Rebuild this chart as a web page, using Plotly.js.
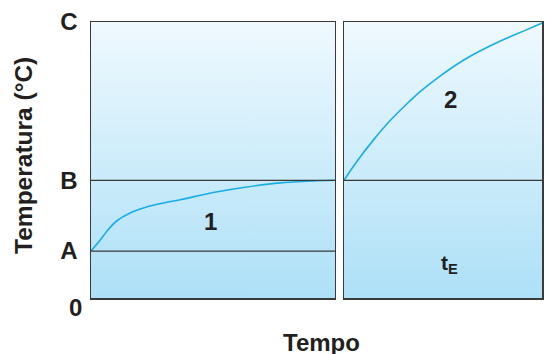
<!DOCTYPE html>
<html>
<head>
<meta charset="utf-8">
<script src="https://cdn.plot.ly/plotly-3.0.1.min.js"></script>
<style>html,body{margin:0;padding:0;background:#fff;}#chart{width:546px;height:354px;}</style>
</head>
<body>
<div id="chart"></div>
<script>
// Temperature levels (relative units, C = 100)
const levelA = 17.0;
const levelB = 42.65;
const levelC = 100;
const yTickVals = [levelA, levelB, levelC];
const yTickText = ['A', 'B', 'C'];

// Curve 1 (left panel), time as fraction of panel
const curve1Time = [0, 0.037, 0.071, 0.105, 0.160, 0.228, 0.296, 0.365, 0.501, 0.638, 0.775, 0.911, 1.0];
const curve1Temp = [17.0, 20.9, 24.8, 27.9, 30.8, 33.0, 34.4, 35.6, 38.2, 40.2, 41.7, 42.4, 42.65];

// Curve 2 (right panel)
const curve2Time = [0, 0.064, 0.148, 0.232, 0.317, 0.392, 0.485, 0.569, 0.653, 0.737, 0.822, 0.906, 1.0];
const curve2Temp = [42.65, 49.4, 57.2, 64.2, 70.3, 75.2, 80.4, 84.6, 88.2, 91.3, 94.1, 96.7, 99.6];

const INK = '#231f20';
const LINE = '#3a3a3a';
const CURVE = '#19ade6';
const FAM = 'Liberation Sans, Arial, sans-serif';

function bg(xa, ya) {
  return {
    x: [0, 1, 1, 0, 0], y: [0, 0, levelC, levelC, 0],
    xaxis: xa, yaxis: ya, mode: 'none', fill: 'toself',
    fillgradient: {type: 'vertical', start: 0, stop: levelC,
      colorscale: [[0, '#ade0f7'], [1, '#eff9fe']]},
    hoverinfo: 'skip', showlegend: false
  };
}

const traces = [
  bg('x', 'y'),
  bg('x2', 'y2'),
  {x: curve1Time, y: curve1Temp, xaxis: 'x', yaxis: 'y', mode: 'lines',
   line: {color: CURVE, width: 1.6, shape: 'spline', smoothing: 0.8}, hoverinfo: 'skip', showlegend: false},
  {x: curve2Time, y: curve2Temp, xaxis: 'x2', yaxis: 'y2', mode: 'lines',
   line: {color: CURVE, width: 1.6, shape: 'spline', smoothing: 1}, hoverinfo: 'skip', showlegend: false}
];

const axisBase = {showgrid: false, zeroline: false, showline: true, mirror: true,
  linecolor: LINE, linewidth: 1.5, ticks: '', fixedrange: true};

const layout = {
  width: 546, height: 354,
  margin: {l: 91, r: 4, t: 22, b: 56, pad: 0},
  paper_bgcolor: '#ffffff', plot_bgcolor: 'rgba(0,0,0,0)',
  showlegend: false,
  xaxis: Object.assign({}, axisBase, {domain: [0, 0.541], range: [0, 1], showticklabels: false, anchor: 'y'}),
  xaxis2: Object.assign({}, axisBase, {domain: [0.561, 1], range: [0, 1], showticklabels: false, anchor: 'y2'}),
  yaxis: Object.assign({}, axisBase, {range: [0, levelC], anchor: 'x',
    tickvals: yTickVals, ticktext: yTickText, ticklabelstandoff: 7,
    tickfont: {family: FAM, size: 24, color: INK, weight: 'bold'}}),
  yaxis2: Object.assign({}, axisBase, {range: [0, levelC], anchor: 'x2', showticklabels: false}),
  shapes: [
    {type: 'line', xref: 'x', yref: 'y', x0: 0, x1: 1, y0: levelA, y1: levelA, line: {color: LINE, width: 1.2}},
    {type: 'line', xref: 'x', yref: 'y', x0: 0, x1: 1, y0: levelB, y1: levelB, line: {color: LINE, width: 1.2}},
    {type: 'line', xref: 'x2', yref: 'y2', x0: 0, x1: 1, y0: levelB, y1: levelB, line: {color: LINE, width: 1.2}}
  ],
  annotations: [
    {text: '0', xref: 'paper', yref: 'y', x: 0, y: 0, xanchor: 'right', yanchor: 'middle',
     xshift: -7, yshift: -9, showarrow: false, font: {family: FAM, size: 24, color: INK, weight: 'bold'}},
    {text: 'Temperatura (°C)', xref: 'paper', yref: 'paper', x: -0.151, y: 0.518, textangle: -90,
     xanchor: 'center', yanchor: 'middle', showarrow: false, font: {family: FAM, size: 24.5, color: INK, weight: 'bold'}},
    {text: 'Tempo', xref: 'paper', yref: 'paper', x: 0.512, y: -0.16, xanchor: 'center', yanchor: 'middle',
     showarrow: false, font: {family: FAM, size: 24, color: INK, weight: 'bold'}},
    {text: '1', xref: 'x', yref: 'y', x: 0.49, y: 27.8, showarrow: false,
     font: {family: FAM, size: 24, color: INK, weight: 'bold'}},
    {text: '2', xref: 'x2', yref: 'y2', x: 0.54, y: 72.0, showarrow: false,
     font: {family: FAM, size: 24, color: INK, weight: 'bold'}},
    {text: 't<sub>E</sub>', xref: 'x2', yref: 'y2', x: 0.535, y: 12.5, showarrow: false,
     font: {family: FAM, size: 21, color: INK, weight: 'bold'}}
  ]
};

Plotly.newPlot('chart', traces, layout, {displayModeBar: false, staticPlot: true});
</script>
</body>
</html>
